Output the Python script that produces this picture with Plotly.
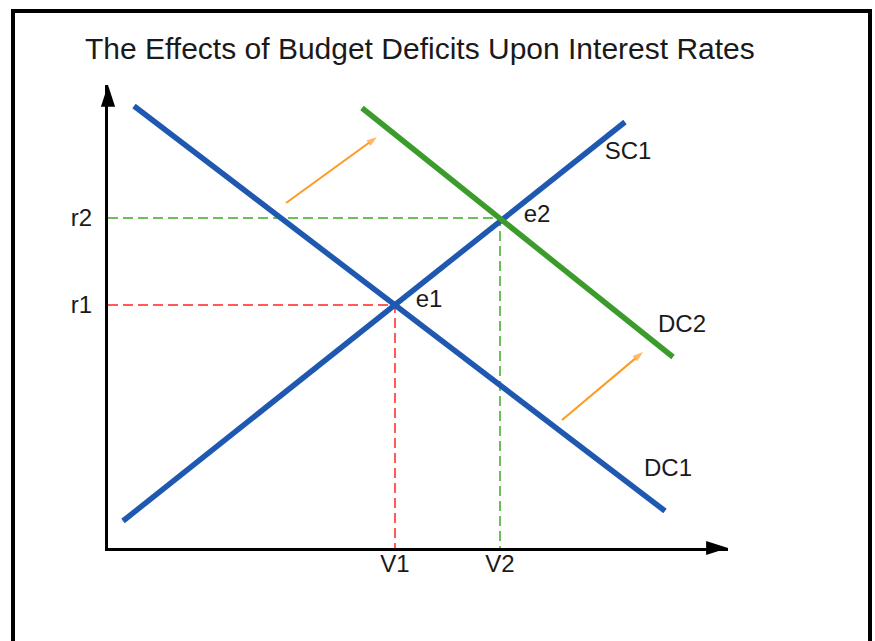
import plotly.graph_objects as go

# ---- data (chart units: origin at axis corner) ----
dc1_x = [2.6, 55.7]
dc1_y = [44.2, 3.7]
sc1_x = [1.5, 51.7]
sc1_y = [2.7, 42.6]
dc2_x = [25.4, 56.5]
dc2_y = [44.0, 19.1]

V1, V2 = 28.7, 39.2
r1, r2 = 24.3, 33.0

shift1_x = [17.8, 26.9]
shift1_y = [34.5, 41.1]
shift2_x = [45.4, 53.5]
shift2_y = [12.8, 19.6]

x_tick_vals = [V1, V2]
x_tick_text = ["V1", "V2"]
y_tick_vals = [r1, r2]
y_tick_text = ["r1", "r2"]

curve_labels = ["e1", "e2", "SC1", "DC2", "DC1"]
curve_label_x = [32.1, 42.9, 52.0, 57.4, 56.0]
curve_label_y = [24.7, 33.2, 39.5, 22.2, 7.8]

X_MAX, Y_MAX = 62.0, 46.3

W, H = 875, 641
FONT = "Liberation Sans, Arial, Helvetica, sans-serif"
BLUE = "#1f58b0"
GREEN = "#3b9b2b"
ORANGE = "#ff9a20"
RED_D = "#ff5a55"
GREEN_D = "#6cc05a"

fig = go.Figure()

# dashed guide lines
fig.add_trace(go.Scatter(x=[0, V1, V1], y=[r1, r1, 0], mode="lines",
                         line=dict(color=RED_D, width=2, dash="10px,5px"),
                         hoverinfo="skip"))
fig.add_trace(go.Scatter(x=[0, V2, V2], y=[r2, r2, 0], mode="lines",
                         line=dict(color=GREEN_D, width=2, dash="10px,5px"),
                         hoverinfo="skip"))

# curves
fig.add_trace(go.Scatter(x=dc1_x, y=dc1_y, mode="lines", line=dict(color=BLUE, width=5.5)))
fig.add_trace(go.Scatter(x=sc1_x, y=sc1_y, mode="lines", line=dict(color=BLUE, width=5.5)))
fig.add_trace(go.Scatter(x=dc2_x, y=dc2_y, mode="lines", line=dict(color=GREEN, width=5.5)))

# shift arrows
for sx, sy in [(shift1_x, shift1_y), (shift2_x, shift2_y)]:
    fig.add_trace(go.Scatter(x=sx, y=sy, mode="lines+markers",
                             line=dict(color=ORANGE, width=2),
                             marker=dict(symbol="arrow", size=[0, 11], color=ORANGE,
                                         angleref="previous", line=dict(width=0)),
                             cliponaxis=False))

# axis arrowheads
fig.add_trace(go.Scatter(x=[X_MAX, 0], y=[0, Y_MAX], mode="markers",
                         marker=dict(symbol="arrow", size=23, color="black",
                                     angle=[90, 0], line=dict(width=0)),
                         cliponaxis=False))

# curve labels
fig.add_trace(go.Scatter(x=curve_label_x, y=curve_label_y, mode="text",
                         text=curve_labels, textposition="middle center",
                         textfont=dict(family=FONT, size=24, color="#1a1a1a"),
                         cliponaxis=False))

# title
fig.add_annotation(text="The Effects of Budget Deficits Upon Interest Rates",
                   xref="paper", yref="paper", x=420 / W, y=1 - 48 / H,
                   xanchor="center", yanchor="middle", showarrow=False,
                   font=dict(family=FONT, size=30, color="#1a1a1a"))

# outer frame
fig.add_shape(type="rect", xref="paper", yref="paper",
              x0=13 / W, x1=870 / W, y0=1 - 11 / H, y1=-0.1,
              line=dict(color="black", width=4), fillcolor="rgba(0,0,0,0)")

fig.update_layout(
    width=W, height=H,
    margin=dict(l=0, r=0, t=0, b=0),
    paper_bgcolor="white", plot_bgcolor="white",
    showlegend=False,
    xaxis=dict(domain=[108 / W, 728 / W], range=[0, X_MAX],
               showgrid=False, zeroline=False, showline=True, linewidth=3, linecolor="black",
               tickmode="array", tickvals=x_tick_vals, ticktext=x_tick_text,
               ticks="", ticklabelstandoff=-8,
               tickfont=dict(family=FONT, size=24, color="#1a1a1a")),
    yaxis=dict(domain=[1 - 548 / H, 1 - 85 / H], range=[0, Y_MAX],
               showgrid=False, zeroline=False, showline=True, linewidth=3, linecolor="black",
               tickmode="array", tickvals=y_tick_vals, ticktext=y_tick_text,
               ticks="", ticklabelstandoff=8,
               tickfont=dict(family=FONT, size=24, color="#1a1a1a")),
)

fig.write_html("out.html",
               config={"displayModeBar": False},
               post_script="document.body.style.margin='0';document.body.style.overflow='hidden';")
